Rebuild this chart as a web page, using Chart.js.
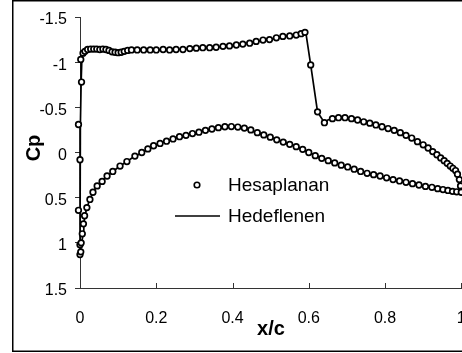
<!DOCTYPE html>
<html>
<head>
<meta charset="utf-8">
<script src="https://cdn.jsdelivr.net/npm/chart.js@4.4.0/dist/chart.umd.min.js"></script>
<style>
html, body { margin: 0; padding: 0; background: #fff; overflow: hidden; }
</style>
</head>
<body>
<!-- canvas a bit wider than the window so the x=1 edge lands on the window border, like the original -->
<canvas id="myChart" width="467" height="353"></canvas>
<script>
const xTicks = [0, 0.2, 0.4, 0.6, 0.8, 1]
const yTicks = [-1.5, -1, -0.5, 0, 0.5, 1, 1.5]

// Hesaplanan - upper surface
const upperX = [0.000, -0.004, 0.004, 0.002, 0.008, 0.013, 0.020, 0.028, 0.036, 0.044, 0.052, 0.060, 0.068, 0.076, 0.084, 0.092, 0.100, 0.108, 0.116, 0.125, 0.135, 0.150, 0.167, 0.184, 0.200, 0.218, 0.235, 0.252, 0.270, 0.288, 0.305, 0.322, 0.340, 0.357, 0.375, 0.392, 0.410, 0.427, 0.445, 0.462, 0.480, 0.497, 0.515, 0.532, 0.550, 0.567, 0.580, 0.590, 0.605, 0.623, 0.641, 0.662, 0.678, 0.695, 0.712, 0.728, 0.744, 0.760, 0.776, 0.792, 0.808, 0.824, 0.840, 0.855, 0.870, 0.885, 0.900, 0.913, 0.925, 0.936, 0.946, 0.955, 0.963, 0.971, 0.978, 0.985, 0.990, 0.995, 0.998, 1.000]
const upperCp = [0.08, -0.31, -0.78, -1.03, -1.10, -1.12, -1.14, -1.145, -1.145, -1.145, -1.14, -1.145, -1.14, -1.13, -1.115, -1.11, -1.105, -1.11, -1.12, -1.13, -1.135, -1.135, -1.135, -1.135, -1.135, -1.14, -1.135, -1.14, -1.14, -1.15, -1.155, -1.16, -1.16, -1.165, -1.175, -1.18, -1.19, -1.20, -1.21, -1.23, -1.245, -1.25, -1.27, -1.285, -1.29, -1.30, -1.315, -1.33, -0.97, -0.45, -0.33, -0.375, -0.385, -0.385, -0.375, -0.36, -0.34, -0.325, -0.305, -0.285, -0.265, -0.245, -0.22, -0.19, -0.16, -0.12, -0.085, -0.05, -0.01, 0.025, 0.06, 0.09, 0.12, 0.15, 0.175, 0.20, 0.24, 0.30, 0.37, 0.43]

// Hesaplanan - lower surface
const lowerX = [-0.004, 0.000, 0.002, 0.000, 0.003, 0.006, 0.009, 0.012, 0.018, 0.026, 0.034, 0.045, 0.058, 0.071, 0.086, 0.105, 0.123, 0.144, 0.162, 0.178, 0.193, 0.210, 0.227, 0.244, 0.261, 0.278, 0.295, 0.312, 0.329, 0.346, 0.363, 0.380, 0.397, 0.414, 0.431, 0.448, 0.465, 0.482, 0.499, 0.516, 0.533, 0.550, 0.567, 0.584, 0.600, 0.617, 0.634, 0.651, 0.668, 0.685, 0.702, 0.719, 0.736, 0.753, 0.770, 0.787, 0.804, 0.821, 0.838, 0.855, 0.872, 0.889, 0.906, 0.923, 0.938, 0.952, 0.965, 0.977, 0.988, 1.000]
const lowerCp = [0.64, 1.13, 1.10, 1.02, 1.00, 0.90, 0.79, 0.70, 0.61, 0.52, 0.44, 0.37, 0.32, 0.26, 0.21, 0.15, 0.10, 0.04, 0.00, -0.04, -0.075, -0.10, -0.125, -0.15, -0.175, -0.19, -0.21, -0.225, -0.245, -0.26, -0.275, -0.285, -0.287, -0.282, -0.27, -0.25, -0.22, -0.195, -0.17, -0.14, -0.115, -0.09, -0.065, -0.035, 0.00, 0.035, 0.065, 0.09, 0.115, 0.14, 0.16, 0.185, 0.21, 0.23, 0.245, 0.26, 0.28, 0.30, 0.315, 0.33, 0.345, 0.36, 0.375, 0.385, 0.40, 0.41, 0.42, 0.43, 0.435, 0.44]

// Hedeflenen - upper TE -> LE -> lower TE
const targetX = [1.000, 0.995, 0.985, 0.970, 0.950, 0.930, 0.905, 0.875, 0.842, 0.807, 0.772, 0.737, 0.702, 0.668, 0.650, 0.641, 0.623, 0.605, 0.592, 0.567, 0.532, 0.497, 0.462, 0.427, 0.392, 0.357, 0.322, 0.288, 0.252, 0.200, 0.150, 0.116, 0.100, 0.076, 0.040, 0.020, 0.010, 0.005, 0.003, 0.001, 0.000, 0.000, 0.000, 0.003, 0.005, 0.008, 0.010, 0.013, 0.018, 0.026, 0.034, 0.045, 0.058, 0.071, 0.086, 0.105, 0.123, 0.144, 0.165, 0.195, 0.229, 0.263, 0.297, 0.331, 0.365, 0.399, 0.433, 0.467, 0.501, 0.535, 0.569, 0.600, 0.634, 0.668, 0.702, 0.736, 0.770, 0.804, 0.838, 0.872, 0.906, 0.938, 0.965, 1.000]
const targetCp = [0.43, 0.30, 0.20, 0.14, 0.07, 0.00, -0.07, -0.15, -0.22, -0.27, -0.31, -0.35, -0.375, -0.38, -0.36, -0.33, -0.45, -0.97, -1.335, -1.30, -1.285, -1.25, -1.23, -1.20, -1.18, -1.165, -1.16, -1.15, -1.14, -1.135, -1.135, -1.12, -1.11, -1.13, -1.145, -1.14, -1.11, -1.05, -0.78, -0.30, 0.10, 0.60, 1.13, 1.04, 0.99, 0.90, 0.79, 0.70, 0.61, 0.52, 0.44, 0.37, 0.32, 0.26, 0.21, 0.15, 0.10, 0.04, 0.00, -0.08, -0.13, -0.175, -0.21, -0.245, -0.275, -0.285, -0.27, -0.215, -0.165, -0.115, -0.065, 0.00, 0.06, 0.115, 0.16, 0.21, 0.245, 0.28, 0.315, 0.345, 0.375, 0.40, 0.42, 0.44]

const toPoints = (xs, ys) => xs.map((x, i) => ({x: x, y: ys[i]}))

const computed = toPoints(upperX, upperCp).concat(toPoints(lowerX, lowerCp))
const target = toPoints(targetX, targetCp)

const FONT = "'Liberation Sans', Arial, sans-serif"

const decorations = {
	id: 'decorations',
	beforeDraw(chart) {
		const ctx = chart.ctx
		ctx.save()
		ctx.strokeStyle = '#000'
		ctx.lineWidth = 1.5
		ctx.strokeRect(12.75, 0.75, 470, 350.5)
		ctx.restore()
	},
	afterDraw(chart) {
		const ctx = chart.ctx
		const xs = chart.scales.x
		const area = chart.chartArea
		ctx.save()
		// x ticks point inward
		ctx.strokeStyle = '#333'
		ctx.lineWidth = 1
		xTicks.forEach(v => {
			const px = Math.round(xs.getPixelForValue(v)) + 0.5
			ctx.beginPath()
			ctx.moveTo(px, area.bottom)
			ctx.lineTo(px, area.bottom - 5)
			ctx.stroke()
		})
		// axis titles
		ctx.fillStyle = '#000'
		ctx.font = 'bold 20px ' + FONT
		ctx.textAlign = 'center'
		ctx.textBaseline = 'middle'
		ctx.fillText('x/c', 271, 329)
		ctx.save()
		ctx.translate(34, 148)
		ctx.rotate(-Math.PI / 2)
		ctx.fillText('Cp', 0, 0)
		ctx.restore()
		// legend
		ctx.font = '19px ' + FONT
		ctx.textAlign = 'left'
		ctx.fillText('Hesaplanan', 228, 186)
		ctx.fillText('Hedeflenen', 228, 217)
		ctx.beginPath()
		ctx.arc(197, 185, 2.8, 0, Math.PI * 2)
		ctx.fillStyle = '#fff'
		ctx.fill()
		ctx.lineWidth = 1.6
		ctx.strokeStyle = '#000'
		ctx.stroke()
		ctx.beginPath()
		ctx.moveTo(175, 216)
		ctx.lineTo(220, 216)
		ctx.lineWidth = 1.5
		ctx.stroke()
		ctx.restore()
	}
}

const chart = new Chart("myChart", {
	type: "scatter",
	data: {
		datasets: [{
			label: 'Hesaplanan',
			data: computed,
			showLine: false,
			pointRadius: 2.8,
			pointBorderWidth: 1.7,
			pointBorderColor: '#000',
			pointBackgroundColor: '#fff',
			clip: false
		}, {
			label: 'Hedeflenen',
			data: target,
			showLine: true,
			borderColor: '#000',
			borderWidth: 1.7,
			pointRadius: 0,
			tension: 0,
			clip: false
		}]
	},
	options: {
		responsive: false,
		animation: false,
		devicePixelRatio: 1,
		layout: {padding: {top: 17, left: 0, right: 0, bottom: 0}},
		plugins: {legend: {display: false}, tooltip: {enabled: false}},
		scales: {
			x: {
				type: 'linear',
				position: 'bottom',
				min: 0,
				max: 1,
				afterBuildTicks: s => { s.ticks = xTicks.map(v => ({value: v})) },
				afterFit: s => { s.height = 65; s.paddingLeft = 0; s.paddingRight = 0 },
				ticks: {
					color: '#000',
					font: {family: FONT, size: 16},
					padding: 21,
					maxRotation: 0,
					autoSkip: false,
					callback: v => String(v)
				},
				grid: {display: true, drawOnChartArea: false, drawTicks: false},
				border: {display: true, color: '#333', width: 1}
			},
			y: {
				type: 'linear',
				reverse: true,
				min: -1.5,
				max: 1.5,
				afterBuildTicks: s => { s.ticks = yTicks.map(v => ({value: v})) },
				afterFit: s => { s.width = 80; s.paddingTop = 0; s.paddingBottom = 0 },
				ticks: {
					color: '#000',
					font: {family: FONT, size: 16},
					padding: 8,
					labelOffset: 3,
					autoSkip: false,
					callback: v => String(v)
				},
				grid: {display: true, drawOnChartArea: false, drawTicks: true, tickLength: 5, color: '#333'},
				border: {display: true, color: '#333', width: 1}
			}
		}
	},
	plugins: [decorations]
});
</script>
</body>
</html>
